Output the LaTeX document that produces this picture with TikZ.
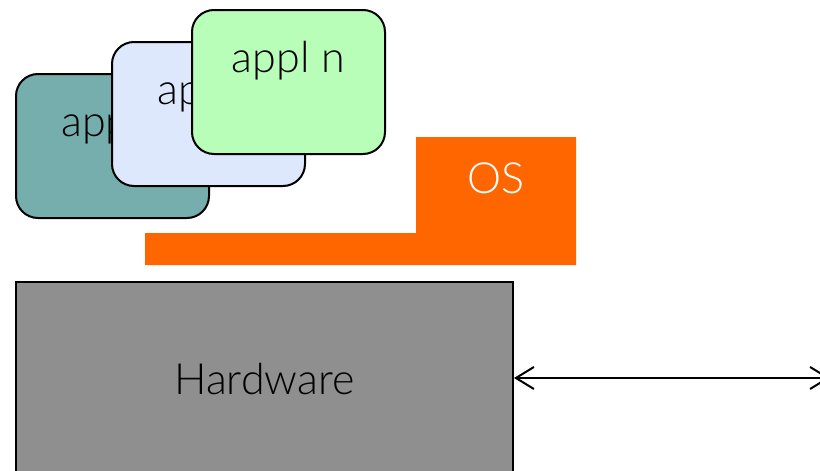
\documentclass[tikz,border=0pt]{standalone}
\usepackage{fontspec}
\setmainfont{Lato}[UprightFont=* Light]
\usetikzlibrary{arrows.meta}
\definecolor{tealbox}{HTML}{76ADAD}
\definecolor{bluebox}{HTML}{DDE8FC}
\definecolor{greenbox}{HTML}{B8FEB8}
\definecolor{osorange}{HTML}{FF6600}
\definecolor{hwgray}{HTML}{8F8F8F}
\tikzset{
  applbox/.style={draw=black, line width=2pt, rounded corners=22pt,
    minimum width=193pt, minimum height=144pt, inner sep=0pt, anchor=north west},
  appltext/.style={font=\fontsize{43}{48}\selectfont, anchor=base, yshift=-63pt, inner sep=0pt},
  hwbox/.style={draw=black, line width=2pt, fill=hwgray, anchor=north west,
    minimum width=497pt, minimum height=194pt, inner sep=0pt,
    font=\fontsize{43}{48}\selectfont},
  link/.style={line width=2pt, {Straight Barb[length=18pt,width=22pt,line width=2pt]}-{Straight Barb[length=18pt,width=22pt,line width=2pt]}}
}
\begin{document}
\begin{tikzpicture}[x=1pt,y=-1pt]
\useasboundingbox (0,0) rectangle (820,471);
% OS shape
\fill[osorange] (145,233) -- (416,233) -- (416,137) -- (576,137) -- (576,265) -- (145,265) -- cycle;
\node[text=white, font=\fontsize{43}{48}\selectfont, inner sep=0pt] (os) at (496,178) {OS};
% application boxes
\node[applbox, fill=tealbox, label={[appltext, xshift=6pt]north:appl 1}] (a1) at (15,73) {};
\node[applbox, fill=bluebox, label={[appltext, xshift=6pt]north:appl 2}] (a2) at (111,41) {};
\node[applbox, fill=greenbox, label={[appltext]north:appl n}] (an) at (191,9) {};
% hardware
\node[hwbox] (hw) at (15,281) {Hardware};
\coordinate (right) at (830,378);
\draw[link] (hw.east |- 0,378) -- (right);
\end{tikzpicture}
\end{document}
